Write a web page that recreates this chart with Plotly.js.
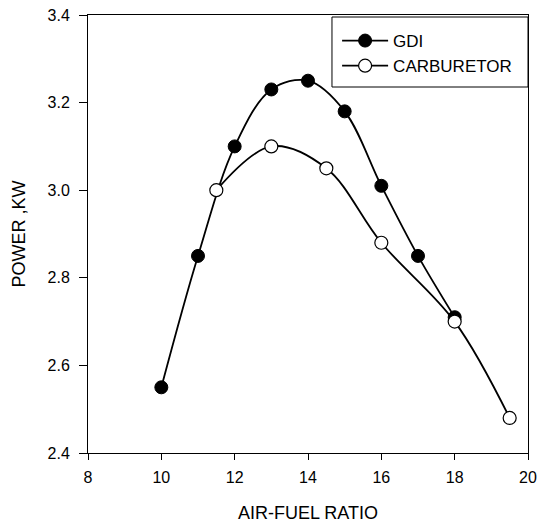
<!DOCTYPE html>
<html><head><meta charset="utf-8">
<script src="https://cdn.plot.ly/plotly-3.0.1.min.js"></script>
<style>html,body{margin:0;padding:0;background:#fff}#c{width:539px;height:524px}</style>
</head><body><div id="c"></div>
<script>
var gdiX = [10, 11, 12, 13, 14, 15, 16, 17, 18];
var gdiY = [2.55, 2.85, 3.10, 3.23, 3.25, 3.18, 3.01, 2.85, 2.71];
var carbX = [11.5, 13, 14.5, 16, 18, 19.5];
var carbY = [3.00, 3.10, 3.05, 2.88, 2.70, 2.48];
var seriesNames = ["GDI", "CARBURETOR"];
var xTicks = [8, 10, 12, 14, 16, 18, 20];
var yTicks = [2.4, 2.6, 2.8, 3.0, 3.2, 3.4];
var yTickText = ["2.4", "2.6", "2.8", "3.0", "3.2", "3.4"];

var fontFam = "Liberation Sans, Arial, sans-serif";
var traces = [
  {x: gdiX, y: gdiY, name: seriesNames[0], mode: "lines+markers",
   line: {shape: "spline", color: "#000", width: 1.8},
   marker: {symbol: "circle", size: 13, color: "#000", line: {color: "#000", width: 1}}},
  {x: carbX, y: carbY, name: seriesNames[1], mode: "lines+markers",
   line: {shape: "spline", color: "#000", width: 1.8},
   marker: {symbol: "circle", size: 13, color: "#fff", line: {color: "#000", width: 1.2}}}
];
var layout = {
  width: 539, height: 524,
  margin: {l: 88, r: 11, t: 15, b: 71},
  paper_bgcolor: "#fff", plot_bgcolor: "#fff",
  font: {family: fontFam, size: 16, color: "#000"},
  showlegend: true,
  legend: {x: 0.5525, y: 0.9817, xanchor: "left", yanchor: "top",
    borderwidth: 0, bgcolor: "rgba(0,0,0,0)",
    indentation: 6, itemwidth: 46, tracegroupgap: 0,
    font: {family: fontFam, size: 17, color: "#000"}},
  shapes: [{type: "rect", xref: "paper", yref: "paper", x0: 0.5545, x1: 1.0, y0: 0.8356, y1: 0.9954,
    line: {color: "#000", width: 1}, fillcolor: "#fff", layer: "above"}],
  xaxis: {range: [8, 20], tickvals: xTicks, ticks: "outside", ticklen: 6, tickwidth: 1,
    tickcolor: "#000", showline: true, linecolor: "#000", linewidth: 1, mirror: true,
    showgrid: false, zeroline: false, ticklabelstandoff: 4,
    tickfont: {family: fontFam, size: 16, color: "#000"},
    title: {text: "AIR-FUEL RATIO", font: {family: fontFam, size: 18, color: "#000"}, standoff: 21}},
  yaxis: {range: [2.4, 3.4], tickvals: yTicks, ticktext: yTickText, ticks: "outside", ticklen: 8, tickwidth: 1,
    tickcolor: "#000", showline: true, linecolor: "#000", linewidth: 1, mirror: true,
    showgrid: false, zeroline: false, ticklabelstandoff: 6,
    tickfont: {family: fontFam, size: 16, color: "#000"},
    title: {text: "POWER ,KW", font: {family: fontFam, size: 18, color: "#000"}, standoff: 17}}
};
Plotly.newPlot("c", traces, layout, {displayModeBar: false, staticPlot: true});
</script></body></html>
